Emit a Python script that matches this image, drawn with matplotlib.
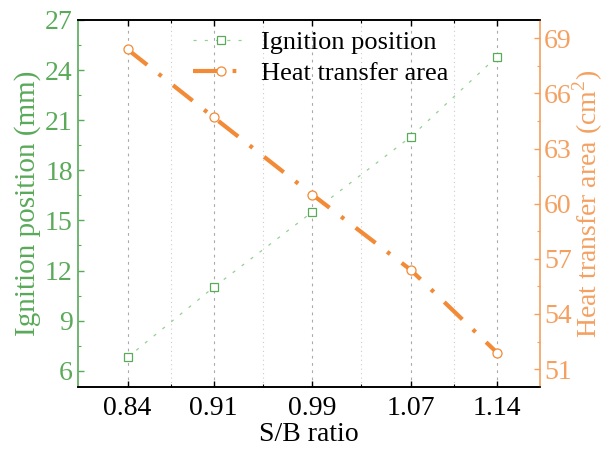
import matplotlib
matplotlib.use('Agg')
import matplotlib.pyplot as plt
from matplotlib.ticker import FixedLocator, MultipleLocator

plt.rcParams['font.family'] = ['Liberation Serif', 'DejaVu Serif']
plt.rcParams['mathtext.fontset'] = 'custom'
plt.rcParams['mathtext.rm'] = 'Liberation Serif'

# data
sb_ratio = [0.84, 0.91, 0.99, 1.07, 1.14]
ignition = [6.8, 11.0, 15.5, 20.0, 24.8]
heat_area = [68.4, 64.7, 60.5, 56.4, 51.9]
minor_x = [0.875, 0.95, 1.03, 1.105]

green = '#5aaa5a'
green_line = '#94d094'
orange = '#f4a060'
orange_line = '#f28a36'

fig = plt.figure(figsize=(6.07, 4.5), dpi=100)
ax = fig.add_axes([0.129, 0.139, 0.7606, 0.8166])
ax2 = ax.twinx()

l1, = ax.plot(sb_ratio, ignition, color=green_line, lw=0.9, dashes=(2.5, 6.5),
              marker='s', ms=6, mfc='white', mec=green, mew=0.9,
              label='Ignition position')
l2, = ax2.plot(sb_ratio, heat_area, color=orange_line, lw=3, dashes=(6, 3.5, 0.9, 3.5),
               marker='o', ms=6.5, mfc='white', mec=orange_line, mew=0.9,
               label='Heat transfer area')

ax.set_xlim(0.80, 1.175)
ax.set_ylim(5, 27)
ax2.set_ylim(50, 70)

ax.set_xticks(sb_ratio)
ax.set_xticklabels(['0.84', '0.91', '0.99', '1.07', '1.14'])
ax.xaxis.set_minor_locator(FixedLocator(minor_x))
ax.yaxis.set_major_locator(MultipleLocator(3))
ax.yaxis.set_minor_locator(MultipleLocator(1.5))
ax2.yaxis.set_major_locator(MultipleLocator(3))
ax2.yaxis.set_minor_locator(MultipleLocator(1.5))
ax2.set_yticks([51, 54, 57, 60, 63, 66, 69])

ax.grid(axis='x', which='major', color='#aaaaaa', lw=0.8, dashes=(2.5, 4))
ax.grid(axis='x', which='minor', color='#cccccc', lw=0.8, dashes=(1, 3))

ax.tick_params(axis='x', which='both', direction='in', top=True, labelsize=20, pad=6)
ax.tick_params(axis='x', which='major', length=4.5, width=1)
ax.tick_params(axis='x', which='minor', length=2.5, width=0.8)
ax.tick_params(axis='y', which='both', direction='in', colors=green, labelsize=20, pad=4)
ax.tick_params(axis='y', which='major', length=4.5, width=1)
ax.tick_params(axis='y', which='minor', length=2.5, width=0.8)
ax2.tick_params(axis='y', which='both', direction='in', colors=orange, labelsize=20, pad=3)
ax2.tick_params(axis='y', which='major', length=4.5, width=1)
ax2.tick_params(axis='y', which='minor', length=2.5, width=0.8)

for a in (ax, ax2):
    a.spines['top'].set_linewidth(1.2)
    a.spines['bottom'].set_linewidth(1.2)
ax.spines['left'].set_color(green)
ax.spines['left'].set_linewidth(1.2)
ax2.spines['left'].set_visible(False)
ax2.spines['right'].set_color(orange)
ax2.spines['right'].set_linewidth(1.2)
ax.spines['right'].set_visible(False)

ax.set_xlabel('S/B ratio', fontsize=20, labelpad=1)
ax.set_ylabel('Ignition position (mm)', fontsize=21, color=green, labelpad=3)
ax2.set_ylabel('Heat transfer area (cm$^2$)', fontsize=20, color=orange, labelpad=-1)

ax2.legend(handles=[l1, l2], loc='upper left', bbox_to_anchor=(0.225, 1.0),
           frameon=False, fontsize=19, handlelength=2.15, handletextpad=0.45,
           labelspacing=0.3, numpoints=1, borderaxespad=0)

fig.savefig('out.png', dpi=100)
